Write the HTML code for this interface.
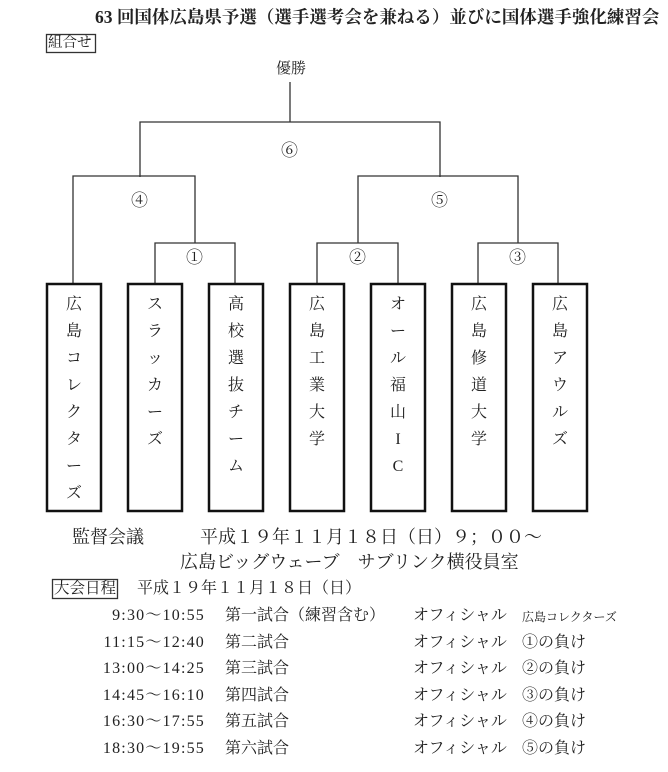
<!DOCTYPE html>
<html><head><meta charset="utf-8"><style>
body{margin:0;width:668px;height:772px;background:#fff;position:relative;overflow:hidden;font-family:"Liberation Serif","Noto Serif CJK SC","Noto Sans CJK JP",serif;color:#222}
.t{position:absolute;white-space:nowrap;line-height:1}
.v{position:absolute;width:54px;text-align:center;font-size:16px;line-height:27px}
.r{position:relative;height:26.6px;font-size:16px}
.tm{width:130px;text-align:right;left:75px;letter-spacing:1.2px}
</style></head><body>
<svg width="668" height="772" style="position:absolute;left:0;top:0" fill="none" stroke="#333">
<g stroke-width="1.3">
<path d="M290 82V122M140 177V122H440V177M73 284V176H195V243M358 243V176H518V243M155 284V243H235V284M317 284V243H398V284M478 284V243H558V284"/>
<rect x="46.5" y="34.5" width="49" height="18"/>
<rect x="52.5" y="579.5" width="65" height="19"/>
</g>
<g stroke-width="2.5" stroke="#111">
<rect x="47" y="284" width="54" height="227"/>
<rect x="128" y="284" width="54" height="227"/>
<rect x="209" y="284" width="54" height="227"/>
<rect x="290" y="284" width="54" height="227"/>
<rect x="371" y="284" width="54" height="227"/>
<rect x="452" y="284" width="54" height="227"/>
<rect x="533" y="284" width="54" height="227"/>
</g>
</svg>
<div class="t" style="left:95px;top:9px;font-size:17.5px;font-weight:bold">63 回国体広島県予選（選手選考会を兼ねる）並びに国体選手強化練習会</div>
<div class="t" style="left:48px;top:36px;font-size:14.5px">組合せ</div>
<div class="t" style="left:276px;top:62px;font-size:15px">優勝</div>
<div class="t" style="left:281px;top:142px;font-size:17px">⑥</div>
<div class="t" style="left:131px;top:192px;font-size:17px">④</div>
<div class="t" style="left:431px;top:192px;font-size:17px">⑤</div>
<div class="t" style="left:186px;top:249px;font-size:17px">①</div>
<div class="t" style="left:349px;top:249px;font-size:17px">②</div>
<div class="t" style="left:509px;top:249px;font-size:17px">③</div>
<div class="v" style="left:47px;top:291px">広<br>島<br>コ<br>レ<br>ク<br>タ<br>ー<br>ズ</div>
<div class="v" style="left:128px;top:291px">ス<br>ラ<br>ッ<br>カ<br>ー<br>ズ</div>
<div class="v" style="left:209px;top:291px">高<br>校<br>選<br>抜<br>チ<br>ー<br>ム</div>
<div class="v" style="left:290px;top:291px">広<br>島<br>工<br>業<br>大<br>学</div>
<div class="v" style="left:371px;top:291px">オ<br>ー<br>ル<br>福<br>山<br>I<br>C</div>
<div class="v" style="left:452px;top:291px">広<br>島<br>修<br>道<br>大<br>学</div>
<div class="v" style="left:533px;top:291px">広<br>島<br>ア<br>ウ<br>ル<br>ズ</div>
<div class="t" style="left:72px;top:528px;font-size:18px">監督会議</div>
<div class="t" style="left:200px;top:528px;font-size:18px">平成１９年１１月１８日（日）９；００～</div>
<div class="t" style="left:180px;top:553px;font-size:18px">広島ビッグウェーブ　サブリンク横役員室</div>
<div class="t" style="left:54px;top:581px;font-size:15.5px">大会日程</div>
<div class="t" style="left:137px;top:581px;font-size:16px">平成１９年１１月１８日（日）</div>
<div style="position:absolute;left:0;top:608px;width:668px;line-height:26.6px">
<div class="r"><span class="t tm">9:30～10:55</span><span class="t" style="left:225px">第一試合（練習含む）</span><span class="t" style="left:413px">オフィシャル</span><span class="t" style="left:522px;font-size:12px;top:3px">広島コレクターズ</span></div>
<div class="r"><span class="t tm">11:15～12:40</span><span class="t" style="left:225px">第二試合</span><span class="t" style="left:413px">オフィシャル</span><span class="t" style="left:522px">①の負け</span></div>
<div class="r"><span class="t tm">13:00～14:25</span><span class="t" style="left:225px">第三試合</span><span class="t" style="left:413px">オフィシャル</span><span class="t" style="left:522px">②の負け</span></div>
<div class="r"><span class="t tm">14:45～16:10</span><span class="t" style="left:225px">第四試合</span><span class="t" style="left:413px">オフィシャル</span><span class="t" style="left:522px">③の負け</span></div>
<div class="r"><span class="t tm">16:30～17:55</span><span class="t" style="left:225px">第五試合</span><span class="t" style="left:413px">オフィシャル</span><span class="t" style="left:522px">④の負け</span></div>
<div class="r"><span class="t tm">18:30～19:55</span><span class="t" style="left:225px">第六試合</span><span class="t" style="left:413px">オフィシャル</span><span class="t" style="left:522px">⑤の負け</span></div>
</div>
</body></html>
